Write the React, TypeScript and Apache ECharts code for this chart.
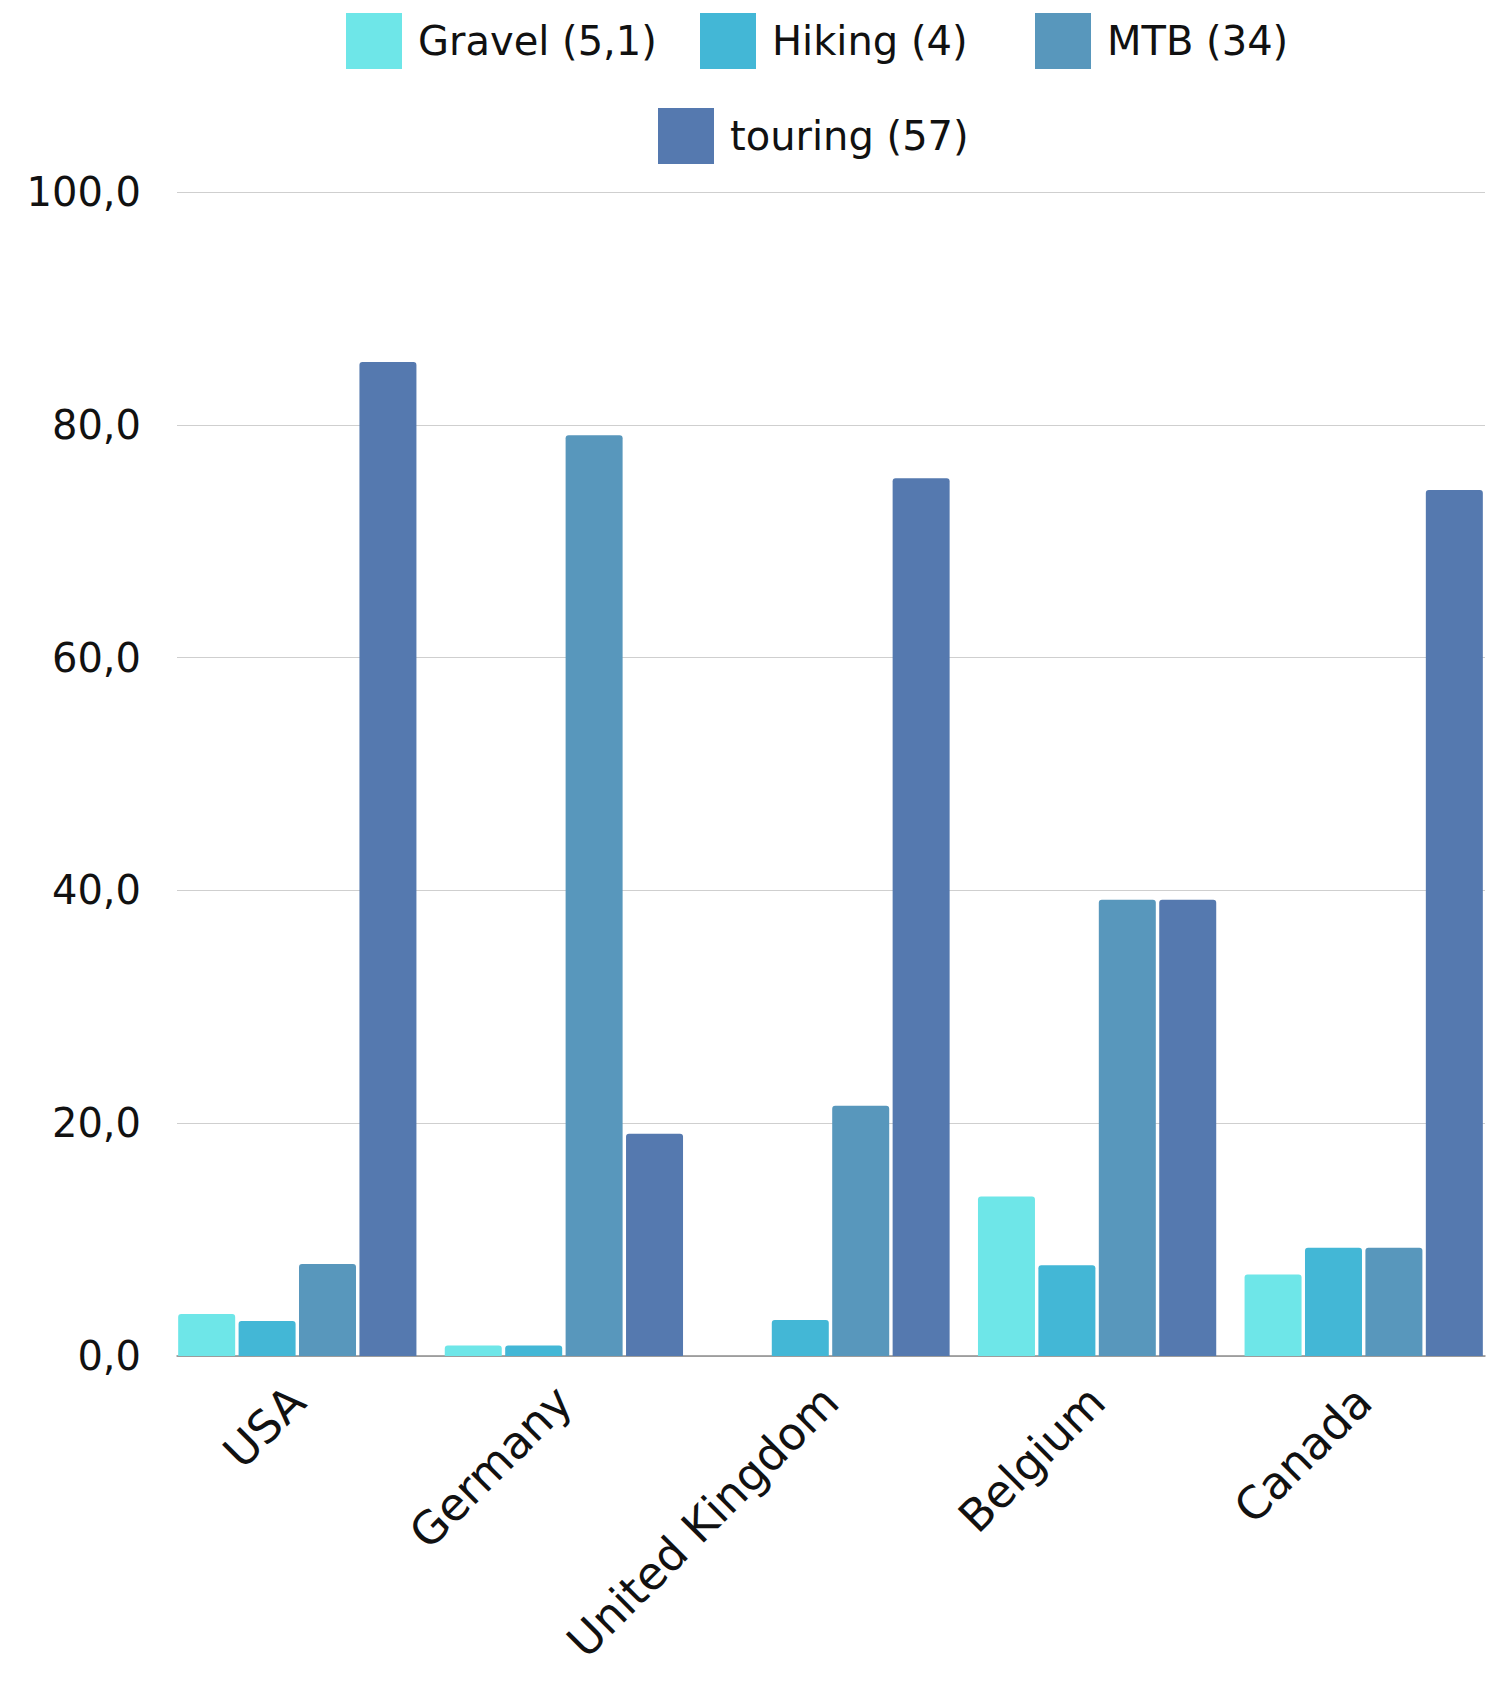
import React, { useEffect, useRef } from "react";
import * as echarts from "echarts";

const categories = ["USA", "Germany", "United Kingdom", "Belgium", "Canada"];
const seriesNames = ["Gravel (5,1)", "Hiking (4)", "MTB (34)", "touring (57)"];
const gravel = [3.6, 0.9, 0, 13.7, 7.0];
const hiking = [3.0, 0.9, 3.1, 7.8, 9.3];
const mtb = [7.9, 79.1, 21.5, 39.2, 9.3];
const touring = [85.4, 19.1, 75.4, 39.2, 74.4];
const colors = ["#6EE6E8", "#43B7D6", "#5897BC", "#5579AF"];

const FONT = "DejaVu Sans";
const legendLeft = [346, 700, 1035, 658];
const legendTop = [13, 13, 13, 108];

const CHART_W = 1500;

export default function App() {
  const ref = useRef<HTMLDivElement>(null);
  useEffect(() => {
    if (!ref.current) return;
    const chart = echarts.init(ref.current, null, { renderer: "svg" });
    const values = [gravel, hiking, mtb, touring];
    const top = 192;
    const bottom = 1682 - 1356;
    chart.setOption({
      animation: false,
      grid: [
        { left: 177, right: CHART_W - 1485, top, bottom, containLabel: false },
        { left: 164, right: CHART_W - 1497, top, bottom, containLabel: false },
      ],
      legend: seriesNames.map((name, i) => ({
        data: [name],
        left: legendLeft[i],
        top: legendTop[i],
        padding: 0,
        itemWidth: 56,
        itemHeight: 56,
        icon: "rect",
        textStyle: { fontFamily: FONT, fontSize: 40, color: "#111", padding: [0, 0, 0, 11] },
      })),
      xAxis: [
        {
          type: "value",
          gridIndex: 0,
          min: 0,
          max: 1,
          axisLine: { show: true, onZero: false, lineStyle: { color: "#8c8c8c", width: 1.5 } },
          axisTick: { show: false },
          axisLabel: { show: false },
          splitLine: { show: false },
        },
        {
          type: "category",
          gridIndex: 1,
          data: categories,
          axisLine: { show: false },
          axisTick: { show: false },
          axisLabel: {
            rotate: 45,
            margin: 38,
            interval: 0,
            padding: [52, 0, 0, 0],
            fontFamily: FONT,
            fontSize: 45,
            color: "#111",
          },
        },
      ],
      yAxis: [
        {
          type: "value",
          gridIndex: 0,
          min: 0,
          max: 100,
          interval: 20,
          axisLine: { show: false },
          axisTick: { show: false },
          axisLabel: {
            margin: 36,
            fontFamily: FONT,
            fontSize: 40,
            color: "#111",
            formatter: (v: number) => v.toFixed(1).replace(".", ","),
          },
          splitLine: { show: true, lineStyle: { color: "#cfcfcf", width: 1.2 } },
        },
        {
          type: "value",
          gridIndex: 1,
          min: 0,
          max: 100,
          show: false,
          splitLine: { show: false },
        },
      ],
      series: seriesNames.map((name, i) => ({
        name,
        type: "bar",
        xAxisIndex: 1,
        yAxisIndex: 1,
        data: values[i],
        barWidth: 57,
        barGap: "6%",
        itemStyle: { color: colors[i], borderRadius: [3, 3, 0, 0] },
      })),
    });
    return () => chart.dispose();
  }, []);
  return (
    <div
      style={{
        position: "absolute",
        left: 0,
        top: 0,
        width: 1487,
        height: 1682,
        overflow: "hidden",
        background: "#fff",
      }}
    >
      <div ref={ref} style={{ width: CHART_W, height: 1682 }} />
    </div>
  );
}
